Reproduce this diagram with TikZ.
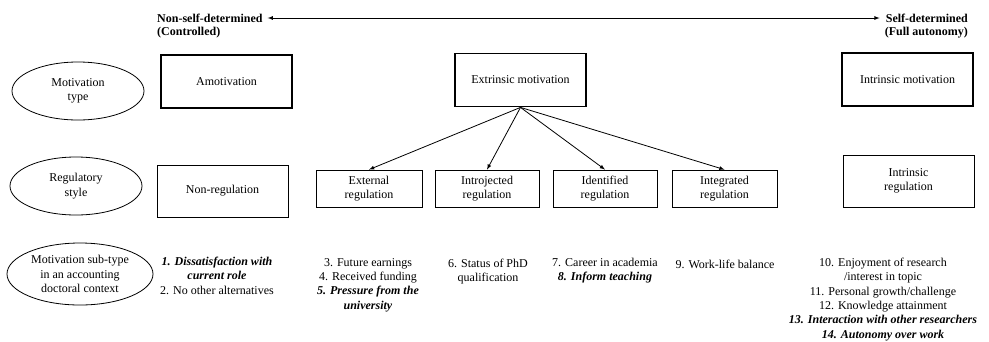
\documentclass[tikz,border=0pt]{standalone}
\usepackage{fontspec}
\setmainfont{Liberation Serif}
\usetikzlibrary{shapes.geometric}
\begin{document}
\begin{tikzpicture}[x=1pt,y=-1pt,font=\fontsize{12}{14.3}\selectfont,
  thickbox/.style={draw, line width=1.8pt, minimum width=131pt, minimum height=53pt},
  thinbox/.style={draw, line width=0.8pt, minimum width=131pt, minimum height=52pt, align=center},
  regbox/.style={draw, line width=0.8pt, minimum width=104pt, minimum height=37pt, align=center},
  oval/.style={draw, ellipse, line width=0.8pt, inner sep=0pt, align=center},
  subtext/.style={anchor=north, inner sep=0pt, align=center},
  headtext/.style={inner sep=0pt, font=\fontsize{12}{14.3}\selectfont\bfseries}]
\useasboundingbox (0,0) rectangle (989,341);

% scale of self-determination
\node[headtext, anchor=west] (nsd) at (157,18) {Non-self-determined};
\node[headtext, anchor=north west] (ctl) at (157,27) {(Controlled)};
\node[headtext, anchor=east] (sd) at (968,18) {Self-determined};
\node[headtext, anchor=north east] (full) at (968,27) {(Full autonomy)};
\draw[line width=0.8pt, latex-latex, shorten <=5pt, shorten >=6pt] (nsd.east) -- (sd.west);

% row labels
\node[oval, minimum width=132pt, minimum height=58pt] (mt) at (78,91) {Motivation\\type};
\node[oval, minimum width=132pt, minimum height=58pt] (rs) at (76,186) {Regulatory\\style};
\node[oval, minimum width=146pt, minimum height=62pt] (ms) at (80,274) {Motivation sub-type\\in an accounting\\doctoral context};

% motivation type
\node[thickbox] (amo) at (226.5,81.5) {Amotivation};
\node[thickbox] (ext) at (520.5,80) {Extrinsic motivation};
\node[thickbox] (intr) at (907.5,79.5) {Intrinsic motivation};

% regulatory style
\node[thinbox] (nonreg) at (222.5,191) {Non-regulation};
\node[regbox, minimum width=106pt] (extreg) at (369,188.5) {External\\regulation};
\node[regbox] (introreg) at (487,188.5) {Introjected\\regulation};
\node[regbox] (identreg) at (605,188.5) {Identified\\regulation};
\node[regbox, minimum width=105pt] (integreg) at (724.5,188.5) {Integrated\\regulation};
\node[thinbox] (intreg) at (908.5,181) {Intrinsic\\regulation};

\foreach \r in {extreg,introreg,identreg,integreg}
  \draw[line width=0.8pt, -latex] (ext.south) -- (\r.north);

% sub-types
\node[subtext] (sub1) at (217,257) {\textbf{\textit{1. Dissatisfaction with}}\\\textbf{\textit{current role}}\\2. No other alternatives};
\node[subtext] (sub2) at (368,258) {3. Future earnings\\4. Received funding\\\textbf{\textit{5. Pressure from the}}\\\textbf{\textit{university}}};
\node[subtext] (sub3) at (488,259) {6. Status of PhD\\qualification};
\node[subtext] (sub4) at (605,258) {7. Career in academia\\\textbf{\textit{8. Inform teaching}}};
\node[subtext] (sub5) at (725,260) {9. Work-life balance};
\node[subtext] (sub6) at (883,258) {10. Enjoyment of research\\/interest in topic\\11. Personal growth/challenge\\12. Knowledge attainment\\\textbf{\textit{13. Interaction with other researchers}}\\\textbf{\textit{14. Autonomy over work}}};
\end{tikzpicture}
\end{document}
